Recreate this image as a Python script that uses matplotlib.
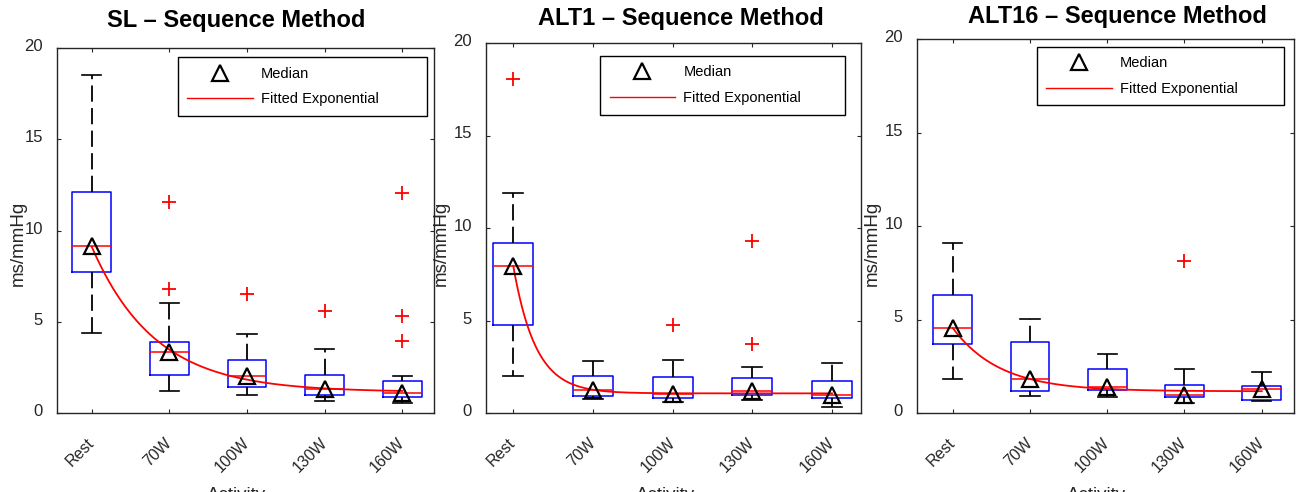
import numpy as np
import matplotlib
matplotlib.use('Agg')
import matplotlib.pyplot as plt
from matplotlib.lines import Line2D
from matplotlib.transforms import ScaledTranslation

plt.rcParams['font.family'] = ['Liberation Sans', 'DejaVu Sans']

categories = ['Rest', '70W', '100W', '130W', '160W']
titles = ['SL – Sequence Method', 'ALT1 – Sequence Method', 'ALT16 – Sequence Method']

# SL
sl_whislo = [4.40, 1.22, 1.00, 0.64, 0.57]
sl_q1 = [7.74, 2.10, 1.42, 0.97, 0.89]
sl_med = [9.13, 3.36, 2.05, 1.32, 1.11]
sl_q3 = [12.11, 3.89, 2.89, 2.06, 1.77]
sl_whishi = [18.52, 6.05, 4.33, 3.51, 2.01]
sl_fliers = [[], [11.58, 6.79], [6.54], [5.59], [12.05, 5.33, 3.93]]

# ALT1
alt1_whislo = [2.00, 0.74, 0.59, 0.72, 0.32]
alt1_q1 = [4.74, 0.94, 0.81, 0.99, 0.83]
alt1_med = [7.95, 1.26, 1.05, 1.19, 0.95]
alt1_q3 = [9.21, 2.00, 1.95, 1.91, 1.75]
alt1_whishi = [11.89, 2.79, 2.88, 2.49, 2.72]
alt1_fliers = [[18.04], [], [4.74], [9.32, 3.73], []]

# ALT16
alt16_whislo = [1.82, 0.89, 0.86, 0.55, 0.625]
alt16_q1 = [3.70, 1.20, 1.21, 0.875, 0.70]
alt16_med = [4.55, 1.80, 1.39, 0.98, 1.29]
alt16_q3 = [6.29, 3.80, 2.34, 1.48, 1.45]
alt16_whishi = [9.07, 5.04, 3.18, 2.34, 2.21]
alt16_fliers = [[], [], [], [8.14], []]

yticks = [0, 5, 10, 15, 20]

panels = [
    (sl_whislo, sl_q1, sl_med, sl_q3, sl_whishi, sl_fliers),
    (alt1_whislo, alt1_q1, alt1_med, alt1_q3, alt1_whishi, alt1_fliers),
    (alt16_whislo, alt16_q1, alt16_med, alt16_q3, alt16_whishi, alt16_fliers),
]

W, H = 1296, 492
fig = plt.figure(figsize=(W / 100, H / 100), dpi=100)

# layout (pixels): left, right, top, bottom
ax_px = [(57, 434, 48, 413), (485.7, 861, 43, 413), (917, 1294, 39, 413)]
xlims = [(0.553, 5.408), (0.654, 5.364), (0.538, 5.418)]
leg_box = [(0.321, 0.975, 0.660), (0.305, 0.965, 0.652), (0.318, 0.979, 0.655)]
title_pos = [(236, 27), (680.7, 25), (1117, 23)]
ylabel_x = [18, 441, 872]
xlabel_x = [236.5, 665.5, 1096.5]

dark = '#262626'


def fit_exp(x, y):
    # least-squares fit of y = a*exp(-b*(x-1)) + c
    best = None
    for b in np.linspace(0.05, 6, 3000):
        A = np.column_stack([np.exp(-b * (x - 1)), np.ones_like(x)])
        coef, *_ = np.linalg.lstsq(A, y, rcond=None)
        r = np.sum((A @ coef - y) ** 2)
        if best is None or r < best[0]:
            best = (r, b, coef)
    _, b, (a, c) = best
    return lambda t: a * np.exp(-b * (t - 1)) + c


for i, (whislo, q1, med, q3, whishi, fliers) in enumerate(panels):
    l, r, t, b = ax_px[i]
    ax = fig.add_axes([l / W, (H - b) / H, (r - l) / W, (b - t) / H])
    stats = []
    for k in range(len(categories)):
        stats.append(dict(med=med[k], q1=q1[k], q3=q3[k], whislo=whislo[k],
                          whishi=whishi[k], fliers=fliers[k], label=categories[k]))
    pos = np.arange(1, len(categories) + 1)
    ax.bxp(stats, positions=pos, widths=0.5, capwidths=0.25,
           boxprops=dict(color='#0000ff', linewidth=1.1),
           medianprops=dict(color='#ff0000', linewidth=1.1),
           whiskerprops=dict(color='black', linewidth=1.3, linestyle=(0, (9, 3.5))),
           capprops=dict(color='black', linewidth=1.2),
           flierprops=dict(marker='+', markeredgecolor='#ff0000', markersize=10.5,
                           markeredgewidth=1.3, linestyle='none'))
    f = fit_exp(pos.astype(float), np.array(med, dtype=float))
    xs = np.linspace(1, len(categories), 300)
    ax.plot(xs, f(xs), color='#ff0000', linewidth=1.3, zorder=3)
    ax.plot(pos, med, linestyle='none', marker='^', markersize=11,
            markerfacecolor='none', markeredgecolor='black', markeredgewidth=1.6, zorder=4)

    ax.set_xlim(*xlims[i])
    ax.set_ylim(0, 20)
    ax.set_yticks(yticks)
    ax.set_xticks(pos)
    ax.set_xticklabels(categories)
    ax.tick_params(direction='in', top=True, right=True, length=3, width=0.8,
                   colors=dark, labelsize=12)
    ax.tick_params(axis='y', pad=10)
    ax.tick_params(axis='x', pad=20, labelsize=11.5)
    plt.setp(ax.get_xticklabels(), rotation=45, ha='right', va='center',
             rotation_mode='anchor', color=dark)
    for lbl in ax.get_yticklabels():
        lbl.set_transform(lbl.get_transform() + ScaledTranslation(0, 3 / 100, fig.dpi_scale_trans))
    for s in ax.spines.values():
        s.set_color(dark)
        s.set_linewidth(1.0)

    handles = [Line2D([], [], marker='^', linestyle='none', markersize=11,
                      markerfacecolor='none', markeredgecolor='black', markeredgewidth=1.6),
               Line2D([], [], color='#ff0000', linewidth=1.0)]
    x0, top, wd = leg_box[i]
    leg = ax.legend(handles, ['Median', 'Fitted Exponential'], loc='upper left',
                    bbox_to_anchor=(x0, top - 0.3, wd, 0.3), mode='expand',
                    borderaxespad=0, fontsize=10.5, handlelength=4.5, handletextpad=0.55,
                    borderpad=0.65, labelspacing=0.8, fancybox=False, framealpha=1,
                    edgecolor='black')
    leg.get_frame().set_linewidth(1.0)

    tx, ty = title_pos[i]
    fig.text(tx / W, (H - ty) / H, titles[i], ha='center', va='baseline',
             fontsize=17, fontweight='bold', color='black')
    fig.text(ylabel_x[i] / W, (H - 243) / H, 'ms/mmHg', rotation=90, ha='center',
             va='center', fontsize=13.5, color=dark)
    fig.text(xlabel_x[i] / W, (H - 500) / H, 'Activity', ha='center', va='baseline',
             fontsize=13.5, color=dark)

fig.savefig('out.png', dpi=100)
